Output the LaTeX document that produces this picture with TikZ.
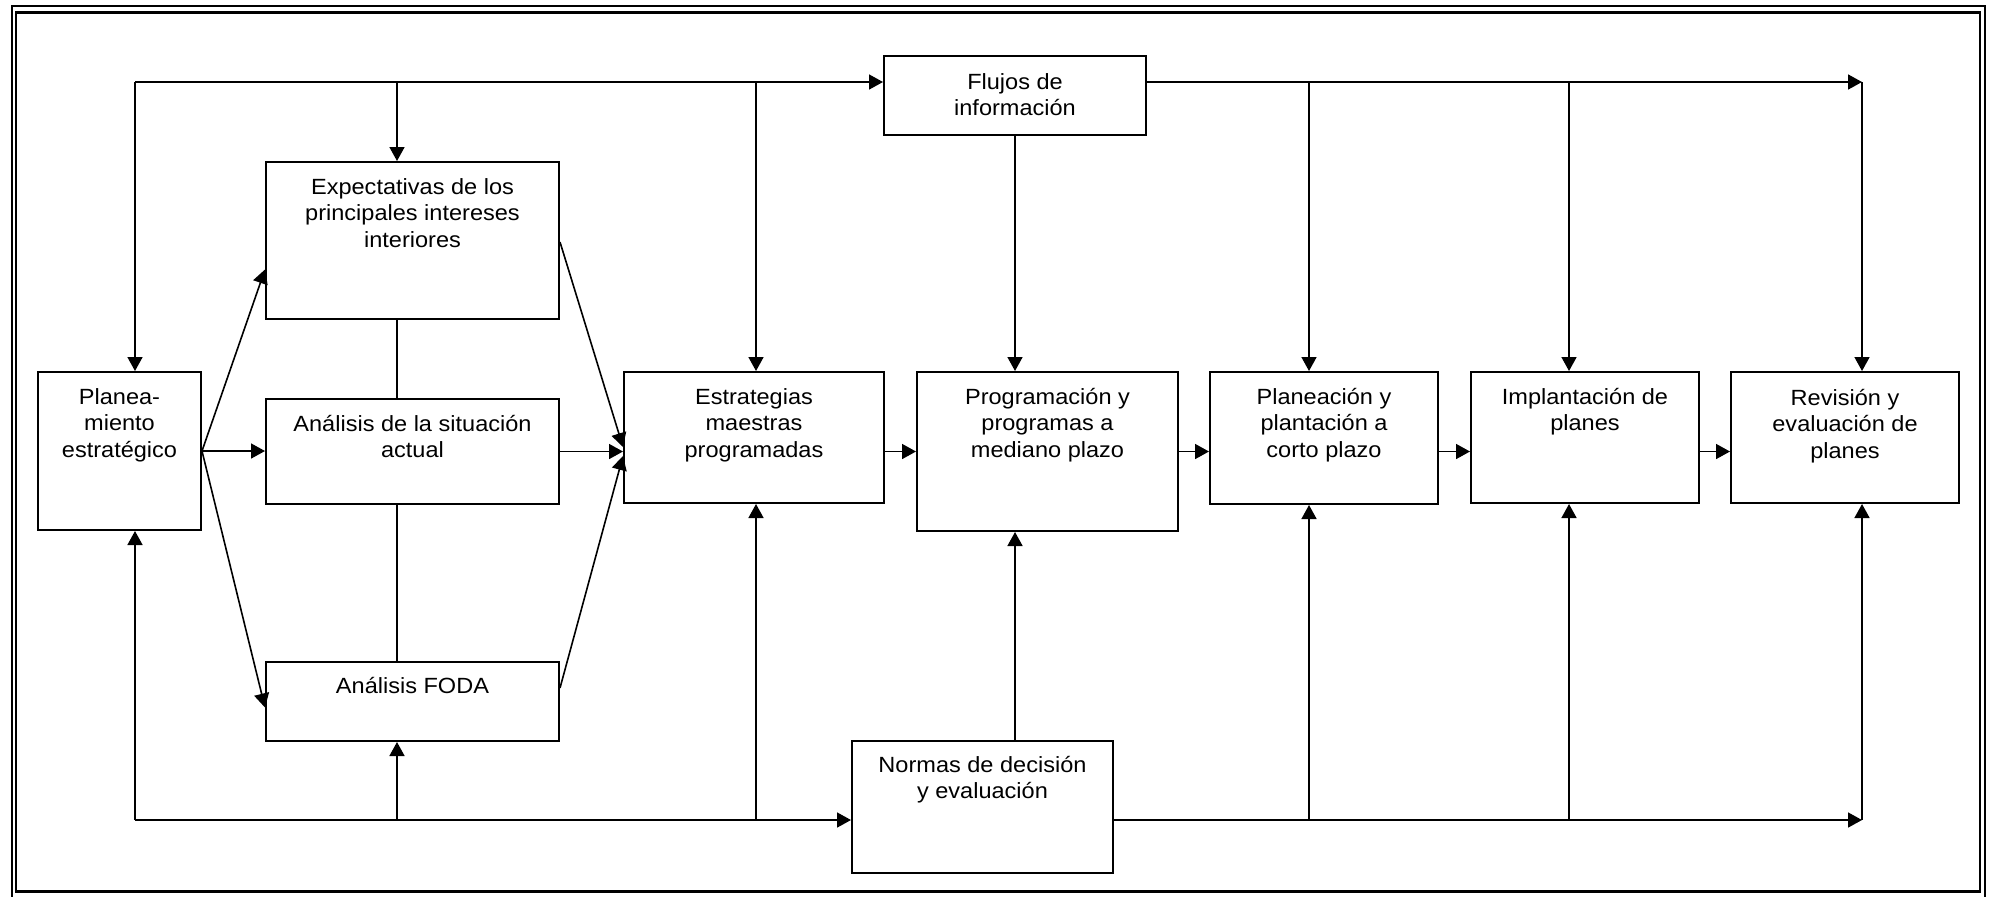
\documentclass[tikz,border=0pt]{standalone}
\usepackage{fontspec}
\setmainfont{Liberation Sans}[FakeStretch=1.07]
\usetikzlibrary{arrows.meta,calc}

\begin{document}
\begin{tikzpicture}[x=0.5pt,y=-0.5pt,
  box/.style={draw, line width=1pt, inner sep=0pt, rectangle},
  txt/.style={anchor=base, inner sep=0pt, font=\fontsize{11}{13.35}\selectfont},
  conn/.style={line width=0.8pt},
  arr/.style={conn, -{Triangle[length=7pt,width=7.5pt]}},
]
\useasboundingbox (0,0) rectangle (1995,896);

% double frame
\draw[line width=0.85pt] (12,6) rectangle (1985,898);
\draw[line width=1.35pt] (16,12.2) rectangle (1980,891.5);

% boxes
\node[box, minimum width=81.5pt,  minimum height=79pt]   (P) at (119.5,451) {};
\node[box, minimum width=146.5pt, minimum height=78.5pt] (E) at (412.5,240.5) {};
\node[box, minimum width=146.5pt, minimum height=52.5pt] (A) at (412.5,451.5) {};
\node[box, minimum width=146.5pt, minimum height=39.5pt] (F) at (412.5,701.5) {};
\node[box, minimum width=130pt,   minimum height=65.5pt] (S) at (754,437.5) {};
\node[box, minimum width=131pt,   minimum height=39.5pt] (I) at (1015,95.5) {};
\node[box, minimum width=130.5pt, minimum height=79.5pt] (M) at (1047.5,451.5) {};
\node[box, minimum width=130.5pt, minimum height=66pt]   (N) at (982.5,807) {};
\node[box, minimum width=114pt,   minimum height=66pt]   (C) at (1324,438) {};
\node[box, minimum width=114pt,   minimum height=65.5pt] (L) at (1585,437.5) {};
\node[box, minimum width=114pt,   minimum height=65.5pt] (R) at (1845,437.5) {};

% box texts, first baseline below the top edge
\node[txt] (Pt) at ($(P.north)+(0,33)$) {\parbox[t]{150pt}{\centering Planea-\\miento\\estratégico}};
\node[txt] (Et) at ($(E.north)+(0,33)$) {\parbox[t]{150pt}{\centering Expectativas de los\\principales intereses\\interiores}};
\node[txt] (At) at ($(A.north)+(0,33)$) {\parbox[t]{150pt}{\centering Análisis de la situación\\actual}};
\node[txt] (Ft) at ($(F.north)+(0,32)$) {\parbox[t]{150pt}{\centering Análisis FODA}};
\node[txt] (St) at ($(S.north)+(0,33)$) {\parbox[t]{150pt}{\centering Estrategias\\maestras\\programadas}};
\node[txt] (It) at ($(I.north)+(0,34)$) {\parbox[t]{150pt}{\centering Flujos de\\información}};
\node[txt] (Mt) at ($(M.north)+(0,33)$) {\parbox[t]{150pt}{\centering Programación y\\programas a\\mediano plazo}};
\node[txt] (Nt) at ($(N.north)+(0,32)$) {\parbox[t]{150pt}{\centering Normas de decisión\\y evaluación}};
\node[txt] (Ct) at ($(C.north)+(0,33)$) {\parbox[t]{150pt}{\centering Planeación y\\plantación a\\corto plazo}};
\node[txt] (Lt) at ($(L.north)+(0,33)$) {\parbox[t]{150pt}{\centering Implantación de\\planes}};
\node[txt] (Rt) at ($(R.north)+(0,34)$) {\parbox[t]{150pt}{\centering Revisión y\\evaluación de\\planes}};

% corners of the two feedback buses and the drop positions
\coordinate (TL) at (135,82);
\coordinate (TR) at (1862,82);
\coordinate (BL) at (135,820);
\coordinate (BR) at (1862,820);
\coordinate (xE) at (397,0);
\coordinate (xS) at (756,0);
\coordinate (xM) at (1015,0);
\coordinate (xC) at (1309,0);
\coordinate (xL) at (1569,0);

% top bus (information flows)
\draw[arr] (TL) -- (TL -| I.west);
\draw[arr] (TL -| I.east) -- (TR);
\draw[arr] (TL) -- (TL |- P.north);
\draw[arr] (xE |- TL) -- (xE |- E.north);
\draw[arr] (xS |- TL) -- (xS |- S.north);
\draw[arr] (xC |- TL) -- (xC |- C.north);
\draw[arr] (xL |- TL) -- (xL |- L.north);
\draw[arr] (TR) -- (TR |- R.north);
\draw[arr] (I.south -| xM) -- (xM |- M.north);

% bottom bus (decision rules)
\draw[arr] (BL) -- (BL -| N.west);
\draw[arr] (BL -| N.east) -- (BR);
\draw[arr] (BL) -- (BL |- P.south);
\draw[arr] (xE |- BL) -- (xE |- F.south);
\draw[arr] (xS |- BL) -- (xS |- S.south);
\draw[arr] (xC |- BL) -- (xC |- C.south);
\draw[arr] (xL |- BL) -- (xL |- L.south);
\draw[arr] (BR) -- (BR |- R.south);
\draw[arr] (N.north -| xM) -- (xM |- M.south);

% links between the three analysis boxes
\draw[conn] (xE |- E.south) -- (xE |- A.north);
\draw[conn] (xE |- A.south) -- (xE |- F.north);

% main flow
\draw[arr] (P.east) -- (P.east -| A.west);
\draw[arr] (A.east) -- (A.east -| S.west);
\draw[arr] (S.east |- A.east) -- (A.east -| M.west);
\draw[arr] (M.east |- A.east) -- (A.east -| C.west);
\draw[arr] (C.east |- A.east) -- (A.east -| L.west);
\draw[arr] (L.east |- A.east) -- (A.east -| R.west);

% fan out and fan in
\draw[arr] (P.east) -- ($(E.west)+(0,29)$);
\draw[arr] (P.east) -- ($(F.west)+(0,6)$);
\draw[arr] ($(E.east)+(0,1.5)$) -- ($(S.west)+(0,9.5)$);
\draw[arr] ($(F.east)+(0,-13.5)$) -- ($(S.west)+(0,18.5)$);
\end{tikzpicture}
\end{document}
